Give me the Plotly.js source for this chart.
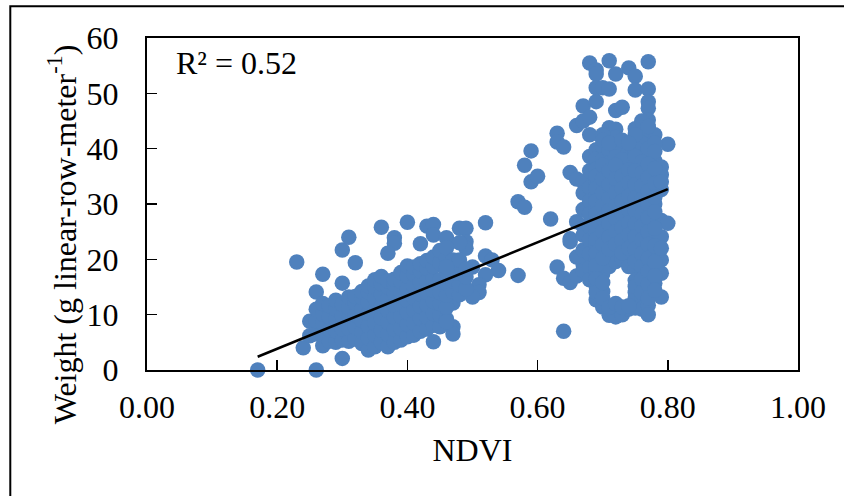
<!DOCTYPE html>
<html><head><meta charset="utf-8">
<script src="https://cdn.plot.ly/plotly-3.0.0.min.js"></script>
<style>html,body{margin:0;padding:0;background:#fff}</style></head>
<body><div id="chart" style="width:844px;height:496px"></div>
<script>
const sparsePoints=[[0.17,0],[0.26,0],[0.30,2.1],[0.23,19.5],[0.27,17.3],[0.26,14.1],[0.25,8.8],[0.24,4],[0.30,21.7],[0.31,24],[0.32,19.4],[0.30,15.7],[0.36,25.8],[0.40,26.7],[0.38,23.9],[0.38,22.9],[0.37,21.1],[0.42,22.8],[0.43,26],[0.44,26.3],[0.44,24.4],[0.46,23.9],[0.48,25.6],[0.49,25.6],[0.49,23.2],[0.49,22],[0.48,23],[0.52,26.6],[0.52,20.6],[0.53,19.9],[0.54,18],[0.50,18.6],[0.52,17.2],[0.51,15.4],[0.51,14],[0.50,13.2],[0.47,12.1],[0.47,7.8],[0.47,6.5],[0.44,5.1],[0.57,17.1],[0.57,30.4],[0.58,29.4],[0.58,37],[0.59,34],[0.59,39.6],[0.60,35],[0.62,27.3],[0.63,18.6],[0.63,42.8],[0.63,41.2],[0.64,40.3],[0.64,16.6],[0.64,7]];
const lowCluster=[
[0.25,6.2],[0.26,6.5],[0.26,8.9],[0.26,11],[0.27,4.4],[0.27,6.4],[0.27,8.4],[0.27,10.1],[0.27,12],
[0.28,5.2],[0.28,7.3],[0.28,9.6],[0.28,11.6],[0.29,5],[0.29,7.1],[0.29,9.2],[0.29,11],[0.29,12.6],
[0.30,5.4],[0.30,7.4],[0.30,9.8],[0.30,11.9],[0.31,5.2],[0.31,7.5],[0.31,9.4],[0.31,11.3],[0.31,13.2],
[0.32,5.6],[0.32,7.7],[0.32,10],[0.32,12.1],[0.32,13.3],[0.33,4.8],[0.33,6.9],[0.33,9],[0.33,11],[0.33,13.1],[0.33,14.2],
[0.34,3.6],[0.34,5.8],[0.34,7.9],[0.34,10.2],[0.34,12.3],[0.34,14.1],[0.34,15.2],[0.35,4.2],[0.35,6.3],[0.35,8.5],[0.35,10.7],[0.35,13],[0.35,15],[0.35,16.3],
[0.36,5],[0.36,7.2],[0.36,9.4],[0.36,11.5],[0.36,13.7],[0.36,15.6],[0.36,16.9],[0.37,4.2],[0.37,6.4],[0.37,8.6],[0.37,10.8],[0.37,12.9],[0.37,15],[0.37,16.1],
[0.38,5],[0.38,7.3],[0.38,9.5],[0.38,11.7],[0.38,13.8],[0.38,15.5],[0.38,16.4],[0.39,5.4],[0.39,7.5],[0.39,9.7],[0.39,11.9],[0.39,14],[0.39,16],[0.39,17.6],
[0.40,6],[0.40,8.2],[0.40,10.4],[0.40,12.6],[0.40,14.8],[0.40,17],[0.40,18.8],[0.41,6.3],[0.41,8.5],[0.41,10.8],[0.41,13],[0.41,15.2],[0.41,17.3],[0.41,18.6],
[0.42,7],[0.42,9.3],[0.42,11.5],[0.42,13.7],[0.42,15.8],[0.42,17.9],[0.42,19.2],[0.43,7.4],[0.43,9.6],[0.43,11.8],[0.43,14],[0.43,16.1],[0.43,18.4],[0.43,19.8],
[0.44,8.1],[0.44,10.2],[0.44,12.4],[0.44,14.4],[0.44,16.6],[0.44,18.7],[0.44,20.4],[0.45,7.8],[0.45,9.9],[0.45,12],[0.45,14],[0.45,16.3],[0.45,19.4],[0.45,21.6],
[0.46,9.2],[0.46,11.3],[0.46,13.5],[0.46,15.7],[0.46,20.2],[0.46,22.1],[0.47,14.2],[0.47,16.1],[0.47,17.8],[0.47,19.9],[0.48,13.6],[0.48,15.4],[0.48,17.5],[0.48,19.9],[0.49,14.7],[0.49,16.8],[0.49,18.2],[0.46,8.7],[0.46,17.8],[0.46,18.6]
];
const highCluster=[
[0.65,35.7],[0.65,23.7],[0.65,23.2],[0.65,15.8],[0.66,44.2],[0.66,34.5],[0.66,26.8],[0.66,20.4],[0.66,17],
[0.67,47.7],[0.67,45],[0.67,34],[0.67,32],[0.67,29],[0.67,26],[0.67,24.4],[0.67,21.7],[0.67,19],[0.67,18],
[0.68,55.5],[0.68,45.7],[0.68,42.5],[0.68,38.6],[0.68,36],[0.68,33],[0.68,30.5],[0.68,28.2],[0.68,25.9],[0.68,23.5],[0.68,21],[0.68,18.5],[0.68,16.3],
[0.69,54.2],[0.69,53.5],[0.69,51],[0.69,48.5],[0.69,39.8],[0.69,38.2],[0.69,36.3],[0.69,34],[0.69,31.5],[0.69,29.4],[0.69,27],[0.69,24.8],[0.69,22.5],[0.69,20],[0.69,17.8],[0.69,15.2],[0.69,12.7],
[0.70,51],[0.70,40.4],[0.70,38],[0.70,35.8],[0.70,33],[0.70,30.9],[0.70,28.6],[0.70,26.2],[0.70,24],[0.70,21.5],[0.70,19.1],[0.70,17.4],[0.70,14.2],[0.70,11.4],
[0.71,55.9],[0.71,50.8],[0.71,43.8],[0.71,42.5],[0.71,39.7],[0.71,37.4],[0.71,34.8],[0.71,32.2],[0.71,29.9],[0.71,27.6],[0.71,25.1],[0.71,22.9],[0.71,20.7],[0.71,18.7],[0.71,9.9],
[0.72,53.5],[0.72,46.9],[0.72,43.5],[0.72,42],[0.72,40.4],[0.72,35.7],[0.72,33.3],[0.72,30.9],[0.72,28.5],[0.72,26.2],[0.72,23.9],[0.72,21.6],[0.72,19.6],[0.72,11.4],[0.72,9.6],
[0.73,47.5],[0.73,39.8],[0.73,36.2],[0.73,34],[0.73,31.7],[0.73,29.3],[0.73,27],[0.73,24.5],[0.73,22.3],[0.73,20.1],[0.73,10],
[0.74,54.6],[0.74,39.5],[0.74,37.6],[0.74,35],[0.74,32.6],[0.74,30.2],[0.74,27.8],[0.74,25.5],[0.74,23.2],[0.74,20.8],[0.74,18.7],[0.74,11],
[0.75,53.1],[0.75,50.6],[0.75,43.6],[0.75,39.8],[0.75,37.3],[0.75,34.8],[0.75,32.3],[0.75,30],[0.75,27.6],[0.75,25.2],[0.75,23],[0.75,20.7],[0.75,18.4],[0.75,14],[0.75,13],[0.75,11.2],
[0.76,42],[0.76,39],[0.76,36.8],[0.76,34.4],[0.76,32],[0.76,29.5],[0.76,27],[0.76,24.8],[0.76,22.2],[0.76,19.9],[0.76,17.5],[0.76,15.3],[0.76,12.8],[0.76,11],
[0.77,55.7],[0.77,50.8],[0.77,48.5],[0.77,47.3],[0.77,45.2],[0.77,43.4],[0.77,41.5],[0.77,38.5],[0.77,36],[0.77,33.6],[0.77,31],[0.77,28.8],[0.77,26.2],[0.77,24],[0.77,21.4],[0.77,19],[0.77,16.6],[0.77,14.4],[0.77,11.7],[0.77,10],
[0.78,42.5],[0.78,37.8],[0.78,35],[0.78,32.4],[0.78,30],[0.78,27.2],[0.78,24],[0.78,20.8],[0.78,18.2],[0.78,15.7],
[0.79,36.7],[0.79,35.3],[0.79,32.6],[0.79,27],[0.79,24.1],[0.79,19.9],[0.79,17.5],[0.79,13.2],
[0.80,40.8],[0.80,26.5]
];
const denseExtras=[
[0.75,41.5],[0.76,43],[0.76,45],[0.76,41],[0.77,44],[0.77,40],[0.78,41],[0.75,42.5],[0.70,42.5],[0.70,41.5],[0.71,41],[0.72,38.5],[0.73,41.5],[0.73,38],[0.74,41],[0.75,38.6],[0.76,37.6],[0.78,39.5],
[0.69,35],[0.69,32.8],[0.69,30.5],[0.69,28.2],[0.69,26],[0.69,23.6],[0.69,21.2],[0.69,18.9],[0.69,16.5],[0.69,14],
[0.70,37],[0.70,34.5],[0.70,32],[0.70,29.7],[0.70,27.4],[0.70,25],[0.70,22.7],[0.70,20.2],[0.70,15.8],[0.70,13],
[0.71,36],[0.71,33.5],[0.71,31],[0.71,28.8],[0.71,26.4],[0.71,24],[0.71,21.8],[0.71,11.3],
[0.72,37],[0.72,34.5],[0.72,32],[0.72,29.7],[0.72,27.4],[0.72,25],[0.72,22.7],[0.72,12],
[0.73,35],[0.73,32.8],[0.73,30.5],[0.73,28.2],[0.73,25.7],[0.73,23.4],[0.73,21.2],[0.73,11.4],
[0.74,36.2],[0.74,33.8],[0.74,31.4],[0.74,29],[0.74,26.6],[0.74,24.4],[0.74,22],[0.74,11.6],
[0.75,36],[0.75,33.5],[0.75,31.1],[0.75,28.8],[0.75,26.4],[0.75,24.1],[0.75,21.8],[0.75,19.6],[0.75,16.2],[0.75,15.1],
[0.76,35.6],[0.76,33.2],[0.76,30.8],[0.76,28.2],[0.76,26],[0.76,23.5],[0.76,21],[0.76,18.7],[0.76,16.4],[0.76,14],
[0.77,37.2],[0.77,34.8],[0.77,32.3],[0.77,30],[0.77,27.5],[0.77,25],[0.77,22.7],[0.77,20.2],[0.77,17.8],[0.77,15.5],[0.77,13],
[0.78,36.4],[0.78,33.7],[0.78,31.2],[0.78,28.6],[0.78,25.6],[0.78,22.4],[0.78,19.5],[0.78,17],[0.78,14.4],[0.79,22],[0.79,34]
];
const trendX=[0.17,0.80];
const trendY=[2.4,32.7];
const xTickVals=[0,0.2,0.4,0.6,0.8,1];
const xTickText=["0.00","0.20","0.40","0.60","0.80","1.00"];
const yTickVals=[0,10,20,30,40,50,60];
const allPoints=sparsePoints.concat(lowCluster,highCluster,denseExtras);
const serif="Liberation Serif, Times New Roman, serif";
const fs=32;
const traces=[
 {type:"scatter",mode:"markers",x:allPoints.map(p=>p[0]),y:allPoints.map(p=>p[1]),cliponaxis:false,
  marker:{color:"#4F81BD",size:15.5,line:{width:0}},hoverinfo:"skip"},
 {type:"scatter",mode:"lines",x:trendX,y:trendY,cliponaxis:false,line:{color:"#000",width:2.5},hoverinfo:"skip"}
];
const layout={
 width:844,height:496,showlegend:false,paper_bgcolor:"#fff",plot_bgcolor:"#fff",
 margin:{l:147,r:46,t:38,b:126},
 font:{family:serif,color:"#000",size:fs},
 xaxis:{range:[0,1],tickmode:"array",tickvals:xTickVals,ticktext:xTickText,ticks:"inside",ticklen:10,tickwidth:1.5,tickcolor:"#000",
   showline:true,linecolor:"#000",linewidth:2,mirror:true,showgrid:false,zeroline:false,ticklabelstandoff:8,
   tickfont:{family:serif,size:fs,color:"#000"},title:{text:"NDVI",font:{family:serif,size:fs,color:"#000"},standoff:14}},
 yaxis:{range:[0,60],tickmode:"array",tickvals:yTickVals,ticks:"inside",ticklen:10,tickwidth:1.5,tickcolor:"#000",
   showline:true,linecolor:"#000",linewidth:2,mirror:true,showgrid:false,zeroline:false,ticklabelstandoff:20,
   tickfont:{family:serif,size:fs,color:"#000"}},
 annotations:[
  {text:"R² = 0.52",xref:"paper",yref:"paper",x:0.041,y:0.985,xanchor:"left",yanchor:"top",showarrow:false,font:{family:serif,size:fs,color:"#000"}},
  {text:"Weight (g linear-row-meter<sup>-1</sup>)",xref:"paper",yref:"paper",x:-0.13,y:0.41,xanchor:"center",yanchor:"middle",textangle:-90,showarrow:false,font:{family:serif,size:fs,color:"#000"}}
 ],
 shapes:[{type:"path",xref:"paper",yref:"paper",path:"M -0.21 -0.40 L -0.21 1.096 L 1.08 1.096",line:{color:"#000",width:2}}]
};
Plotly.newPlot("chart",traces,layout,{staticPlot:true,displayModeBar:false});
</script></body></html>
